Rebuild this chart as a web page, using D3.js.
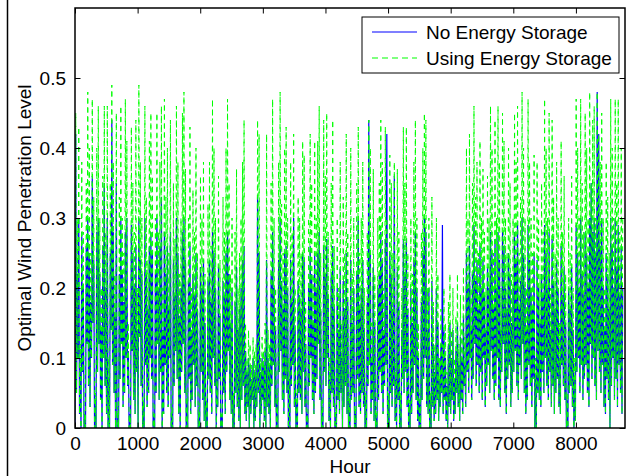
<!DOCTYPE html>
<html>
<head>
<meta charset="utf-8">
<script src="https://cdn.jsdelivr.net/npm/d3@7"></script>
<style>
html,body{margin:0;padding:0;background:#fff;}
svg{display:block;font-family:"Liberation Sans",Arial,Helvetica,sans-serif;}
</style>
</head>
<body>
<svg id="chart" width="630" height="476"></svg>
<script>
// Daily peak of "Using Energy Storage" (green), one value per day (hour = 24*day + 12)
const greenPeaks = [
0.45,0.30,0.43,0.12,0.38,0.28,0.02,0.35,0.48,0.40,
0.25,0.47,0.33,0.05,0.40,0.46,0.30,0.20,0.36,0.46,
0.28,0.46,0.10,0.35,0.49,0.38,0.22,0.45,0.03,0.33,
0.46,0.30,0.25,0.47,0.41,0.15,0.02,0.43,0.35,0.28,
0.44,0.20,0.49,0.38,0.30,0.04,0.46,0.33,0.24,0.41,
0.45,0.36,0.02,0.30,0.45,0.28,0.38,0.46,0.20,0.47,
0.33,0.40,0.25,0.44,0.03,0.35,0.27,0.46,0.38,0.22,
0.30,0.45,0.48,0.37,0.05,0.30,0.43,0.20,0.34,0.28,
0.40,0.25,0.03,0.36,0.30,0.38,0.22,0.04,0.32,0.38,
0.26,0.47,0.40,0.30,0.10,0.36,0.24,0.02,0.33,0.28,
0.40,0.47,0.35,0.22,0.30,0.05,0.28,0.37,0.20,0.25,
0.30,0.38,0.44,0.15,0.10,0.14,0.12,0.09,0.13,0.11,
0.12,0.44,0.42,0.10,0.13,0.11,0.15,0.42,0.14,0.12,
0.35,0.47,0.30,0.20,0.05,0.38,0.48,0.32,0.25,0.40,
0.43,0.30,0.10,0.38,0.28,0.42,0.20,0.05,0.33,0.30,
0.25,0.41,0.39,0.18,0.02,0.30,0.42,0.35,0.22,0.41,
0.30,0.41,0.46,0.25,0.04,0.44,0.36,0.45,0.28,0.10,
0.35,0.44,0.26,0.03,0.30,0.20,0.38,0.15,0.33,0.25,
0.42,0.28,0.05,0.40,0.22,0.30,0.03,0.35,0.43,0.25,
0.30,0.38,0.20,0.05,0.28,0.44,0.40,0.15,0.37,0.22,
0.03,0.30,0.35,0.44,0.38,0.20,0.43,0.30,0.05,0.39,
0.35,0.25,0.38,0.10,0.37,0.28,0.05,0.20,0.43,0.35,
0.43,0.25,0.04,0.30,0.22,0.38,0.44,0.30,0.15,0.05,
0.28,0.40,0.45,0.44,0.20,0.30,0.05,0.33,0.18,0.12,
0.30,0.22,0.10,0.17,0.12,0.20,0.15,0.08,0.18,0.22,
0.14,0.20,0.10,0.16,0.22,0.12,0.19,0.15,0.23,0.13,
0.40,0.30,0.42,0.20,0.35,0.46,0.33,0.38,0.25,0.41,
0.30,0.37,0.28,0.20,0.36,0.30,0.46,0.40,0.25,0.44,
0.30,0.46,0.38,0.20,0.45,0.41,0.30,0.25,0.40,0.35,
0.22,0.30,0.45,0.38,0.46,0.25,0.33,0.48,0.40,0.30,
0.20,0.47,0.38,0.30,0.25,0.39,0.10,0.38,0.30,0.22,
0.35,0.28,0.47,0.40,0.30,0.45,0.20,0.44,0.33,0.25,
0.38,0.30,0.15,0.41,0.28,0.36,0.22,0.05,0.30,0.25,
0.36,0.20,0.10,0.47,0.40,0.30,0.47,0.35,0.28,0.45,
0.40,0.30,0.48,0.35,0.44,0.46,0.30,0.48,0.42,0.38,
0.45,0.30,0.20,0.38,0.33,0.25,0.47,0.40,0.30,0.47,
0.35,0.47,0.28,0.40,0.30
];
// Daily peak of "No Energy Storage" (blue)
const bluePeaks = [
0.42,0.22,0.30,0.08,0.28,0.20,0.02,0.26,0.30,0.25,
0.18,0.36,0.24,0.04,0.28,0.30,0.22,0.14,0.26,0.35,
0.20,0.30,0.07,0.25,0.44,0.28,0.16,0.35,0.02,0.22,
0.30,0.22,0.18,0.28,0.30,0.11,0.02,0.29,0.25,0.20,
0.26,0.14,0.30,0.24,0.22,0.03,0.30,0.22,0.17,0.26,
0.28,0.25,0.02,0.22,0.30,0.20,0.26,0.33,0.14,0.28,
0.22,0.26,0.17,0.28,0.02,0.24,0.19,0.30,0.25,0.16,
0.20,0.28,0.30,0.24,0.04,0.21,0.26,0.14,0.22,0.19,
0.25,0.17,0.02,0.23,0.20,0.24,0.15,0.03,0.21,0.24,
0.18,0.28,0.25,0.20,0.07,0.23,0.16,0.02,0.21,0.19,
0.25,0.28,0.22,0.15,0.20,0.04,0.18,0.23,0.14,0.17,
0.20,0.24,0.26,0.11,0.08,0.10,0.09,0.07,0.10,0.08,
0.09,0.33,0.25,0.08,0.10,0.09,0.11,0.24,0.10,0.09,
0.22,0.28,0.20,0.14,0.04,0.24,0.30,0.21,0.17,0.25,
0.26,0.20,0.07,0.24,0.18,0.30,0.14,0.04,0.21,0.19,
0.17,0.25,0.24,0.12,0.02,0.20,0.26,0.22,0.15,0.25,
0.20,0.25,0.28,0.17,0.03,0.26,0.22,0.27,0.19,0.07,
0.22,0.26,0.17,0.02,0.20,0.14,0.23,0.10,0.21,0.17,
0.25,0.18,0.04,0.24,0.15,0.20,0.02,0.22,0.30,0.17,
0.20,0.24,0.14,0.04,0.18,0.44,0.25,0.10,0.23,0.15,
0.02,0.20,0.22,0.28,0.24,0.14,0.27,0.42,0.04,0.25,
0.22,0.17,0.36,0.07,0.23,0.18,0.04,0.14,0.27,0.22,
0.27,0.17,0.03,0.20,0.15,0.24,0.28,0.20,0.10,0.04,
0.18,0.25,0.30,0.28,0.14,0.20,0.04,0.21,0.12,0.08,
0.20,0.15,0.07,0.12,0.29,0.14,0.10,0.06,0.12,0.15,
0.10,0.14,0.07,0.11,0.15,0.09,0.13,0.10,0.16,0.09,
0.25,0.20,0.26,0.14,0.22,0.29,0.21,0.24,0.17,0.26,
0.20,0.24,0.19,0.14,0.23,0.20,0.28,0.25,0.17,0.27,
0.20,0.28,0.24,0.14,0.28,0.26,0.20,0.17,0.25,0.22,
0.15,0.20,0.28,0.24,0.29,0.17,0.21,0.30,0.25,0.20,
0.14,0.29,0.24,0.20,0.17,0.25,0.07,0.24,0.20,0.15,
0.22,0.19,0.29,0.25,0.20,0.28,0.14,0.27,0.21,0.17,
0.24,0.20,0.10,0.26,0.19,0.23,0.15,0.04,0.20,0.17,
0.23,0.14,0.07,0.29,0.25,0.20,0.30,0.22,0.19,0.28,
0.25,0.20,0.30,0.35,0.28,0.30,0.25,0.48,0.42,0.26,
0.30,0.20,0.14,0.25,0.22,0.17,0.30,0.26,0.20,0.30,
0.23,0.29,0.19,0.26,0.20
];
// Daily trough (hour = 24*day), shared by both series
const troughs = [
0.00,0.05,0.10,0.02,0.00,0.08,0.00,0.00,0.12,0.06,
0.03,0.10,0.15,0.00,0.00,0.08,0.12,0.04,0.00,0.10,
0.06,0.02,0.00,0.00,0.14,0.09,0.05,0.00,0.00,0.00,
0.07,0.12,0.03,0.05,0.10,0.06,0.00,0.00,0.11,0.04,
0.02,0.08,0.00,0.13,0.06,0.00,0.00,0.09,0.03,0.05,
0.10,0.07,0.00,0.00,0.05,0.12,0.04,0.08,0.00,0.02,
0.09,0.05,0.03,0.10,0.00,0.00,0.06,0.11,0.07,0.02,
0.00,0.08,0.12,0.05,0.00,0.00,0.07,0.02,0.04,0.09,
0.03,0.06,0.00,0.00,0.08,0.04,0.01,0.00,0.00,0.07,
0.05,0.02,0.10,0.06,0.00,0.03,0.07,0.00,0.00,0.05,
0.02,0.08,0.11,0.04,0.02,0.00,0.00,0.05,0.03,0.01,
0.00,0.04,0.06,0.02,0.01,0.03,0.00,0.02,0.04,0.00,
0.01,0.03,0.05,0.00,0.02,0.04,0.01,0.00,0.03,0.02,
0.00,0.06,0.09,0.03,0.00,0.00,0.08,0.11,0.04,0.02,
0.07,0.05,0.00,0.00,0.06,0.09,0.03,0.00,0.00,0.05,
0.04,0.02,0.08,0.03,0.00,0.00,0.06,0.10,0.04,0.02,
0.05,0.07,0.12,0.04,0.00,0.00,0.08,0.06,0.10,0.01,
0.00,0.05,0.03,0.00,0.00,0.04,0.02,0.05,0.00,0.03,
0.06,0.02,0.00,0.00,0.04,0.05,0.00,0.00,0.07,0.03,
0.02,0.05,0.03,0.00,0.00,0.06,0.09,0.02,0.04,0.01,
0.00,0.00,0.04,0.08,0.05,0.02,0.06,0.09,0.00,0.00,
0.05,0.03,0.06,0.01,0.00,0.04,0.00,0.00,0.07,0.05,
0.08,0.03,0.00,0.00,0.02,0.05,0.09,0.04,0.01,0.00,
0.00,0.04,0.07,0.10,0.03,0.02,0.00,0.00,0.03,0.01,
0.02,0.04,0.01,0.03,0.05,0.02,0.04,0.01,0.00,0.03,
0.02,0.04,0.01,0.02,0.05,0.03,0.01,0.04,0.02,0.06,
0.03,0.08,0.05,0.10,0.04,0.07,0.12,0.06,0.09,0.05,
0.08,0.04,0.10,0.03,0.06,0.09,0.05,0.11,0.07,0.04,
0.06,0.10,0.04,0.03,0.08,0.12,0.05,0.02,0.07,0.09,
0.03,0.05,0.08,0.11,0.06,0.04,0.09,0.07,0.12,0.05,
0.02,0.04,0.09,0.06,0.03,0.07,0.00,0.00,0.05,0.04,
0.03,0.08,0.05,0.10,0.06,0.04,0.08,0.03,0.06,0.02,
0.05,0.07,0.03,0.02,0.09,0.06,0.04,0.00,0.00,0.05,
0.06,0.03,0.00,0.01,0.08,0.10,0.05,0.09,0.04,0.07,
0.09,0.05,0.03,0.12,0.07,0.10,0.06,0.04,0.11,0.08,
0.05,0.09,0.03,0.02,0.07,0.04,0.00,0.06,0.10,0.04,
0.07,0.03,0.09,0.05,0.02
];
const xTicks = [0,1000,2000,3000,4000,5000,6000,7000,8000];
const yTicks = [0,0.1,0.2,0.3,0.4,0.5];
const yTickLabels = ["0","0.1","0.2","0.3","0.4","0.5"];
const seriesNames = ["No Energy Storage","Using Energy Storage"];

const svg = d3.select("#chart");
const PL = 75, PR = 625, PT = 8, PB = 428;
const x = d3.scaleLinear().domain([0, 8784]).range([PL, PR]);
const y = d3.scaleLinear().domain([0, 0.6]).range([PB, PT]);

// figure frame edge at left
svg.append("line").attr("x1",7.5).attr("x2",7.5).attr("y1",0).attr("y2",476)
  .attr("stroke","#000").attr("stroke-width",1.5);

svg.append("defs").append("clipPath").attr("id","clip")
  .append("rect").attr("x",PL).attr("y",PT).attr("width",PR-PL).attr("height",PB-PT);

function buildSeries(peaks){
  const pts = [];
  peaks.forEach((p,i)=>{ pts.push([i*24, troughs[i]]); pts.push([i*24+12, p]); });
  return pts;
}
const line = d3.line().x(d=>x(d[0])).y(d=>y(d[1]));
const plot = svg.append("g").attr("clip-path","url(#clip)");
plot.append("path").datum(buildSeries(bluePeaks)).attr("d",line)
  .attr("fill","none").attr("stroke","#0000ff").attr("stroke-width",1.2);
plot.append("path").datum(buildSeries(greenPeaks)).attr("d",line)
  .attr("fill","none").attr("stroke","#00ff00").attr("stroke-width",1.0)
  .attr("stroke-dasharray","5,4");

// axes (Matlab style, ticks inside, mirrored)
const tl = 5.5;
const axG = svg.append("g");
const axBottom = axG.append("g").attr("transform",`translate(0,${PB})`)
  .call(d3.axisBottom(x).tickValues(xTicks).tickSizeInner(-tl).tickSizeOuter(0).tickPadding(10).tickFormat(d3.format("d")));
const axTop = axG.append("g").attr("transform",`translate(0,${PT})`)
  .call(d3.axisTop(x).tickValues(xTicks).tickSizeInner(-tl).tickSizeOuter(0).tickFormat(""));
const axLeft = axG.append("g").attr("transform",`translate(${PL},0)`)
  .call(d3.axisLeft(y).tickValues(yTicks).tickSizeInner(-tl).tickSizeOuter(0).tickPadding(9).tickFormat((d,i)=>yTickLabels[i]));
const axRight = axG.append("g").attr("transform",`translate(${PR},0)`)
  .call(d3.axisRight(y).tickValues(yTicks).tickSizeInner(-tl).tickSizeOuter(0).tickFormat(""));
[axBottom,axTop,axLeft,axRight].forEach(a=>{
  a.select(".domain").remove();
  a.selectAll(".tick line").attr("stroke","#000").attr("stroke-width",1);
  a.selectAll("text").attr("font-size",19).attr("fill","#000")
    .attr("font-family","'Liberation Sans',Arial,sans-serif");
});
axBottom.selectAll("text").attr("dy","0.71em").attr("y",9);
svg.append("rect").attr("x",PL).attr("y",PT).attr("width",PR-PL).attr("height",PB-PT)
  .attr("fill","none").attr("stroke","#000").attr("stroke-width",1.5);

// axis labels
svg.append("text").attr("x",(PL+PR)/2).attr("y",473).attr("text-anchor","middle")
  .attr("font-size",19).text("Hour");
svg.append("text").attr("transform",`translate(31,${(PT+PB)/2}) rotate(-90)`)
  .attr("text-anchor","middle").attr("font-size",19).text("Optimal Wind Penetration Level");

// legend
const lg = svg.append("g");
lg.append("rect").attr("x",362).attr("y",17).attr("width",257).attr("height",56)
  .attr("fill","#fff").attr("stroke","#000").attr("stroke-width",1);
const lgY = [32, 58];
lg.append("line").attr("x1",372).attr("x2",417).attr("y1",lgY[0]).attr("y2",lgY[0])
  .attr("stroke","#0000ff").attr("stroke-width",1.1);
lg.append("line").attr("x1",372).attr("x2",417).attr("y1",lgY[1]).attr("y2",lgY[1])
  .attr("stroke","#00ff00").attr("stroke-width",1.2).attr("stroke-dasharray","6,4");
seriesNames.forEach((n,i)=>{
  lg.append("text").attr("x",426).attr("y",lgY[i]+7).attr("font-size",19).text(n);
});
</script>
</body>
</html>
